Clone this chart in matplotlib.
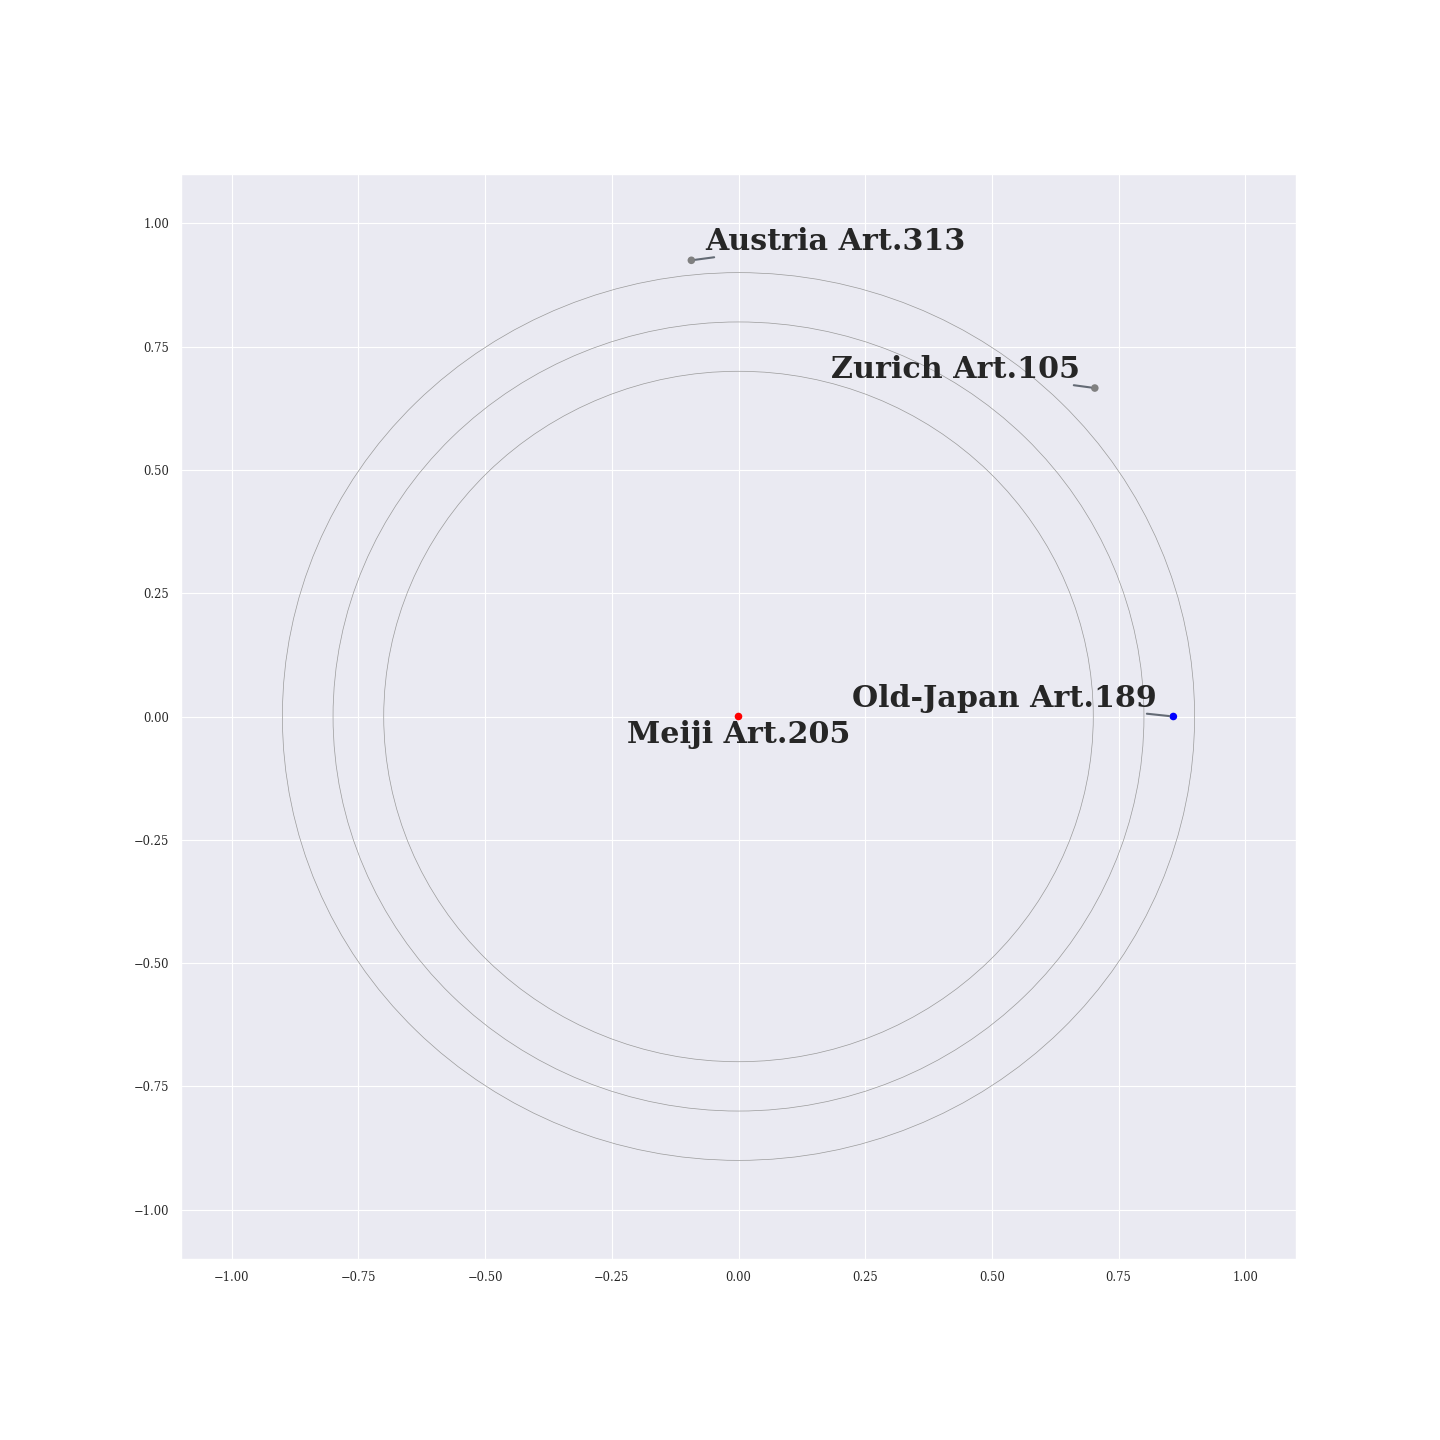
import matplotlib
matplotlib.use("Agg")
import matplotlib.pyplot as plt
import seaborn as sns

sns.set_theme(context="paper", style="darkgrid")
plt.rcParams['font.family'] = ['serif']
plt.rcParams['font.serif'] = ['DejaVu Serif']

labels = ["Meiji Art.205", "Old-Japan Art.189", "Zurich Art.105", "Austria Art.313"]
xs = [0.0, 0.858, 0.703, -0.093]
ys = [0.0, 0.0, 0.666, 0.925]
colors = ["red", "blue", "gray", "gray"]
text_x = [0.0, 0.525, 0.428, 0.191]
text_y = [-0.036, 0.036, 0.704, 0.964]
radii = [0.7, 0.8, 0.9]
# how far (pt) the leader line stays away from the label centre
shrink = [None, 103, 86, 88]

fig = plt.figure(figsize=(14.4, 14.4), dpi=100)
ax = fig.add_axes([181/1440, 1 - 1259/1440, (1296 - 181)/1440, (1259 - 174)/1440])

for r in radii:
    ax.add_patch(plt.Circle((0, 0), r, fill=False, color="#9a9a9a", lw=0.5))

ax.scatter(xs, ys, c=colors, s=30, zorder=3, linewidths=0)

for lab, x, y, tx, ty, sh in zip(labels, xs, ys, text_x, text_y, shrink):
    ap = None
    if sh is not None:
        ap = dict(arrowstyle="-", color="#646b75", lw=1.5, patchA=None,
                  shrinkA=sh, shrinkB=3)
    ax.annotate(lab, xy=(x, y), xytext=(tx, ty), ha="center", va="center",
                fontsize=21.7, fontweight="bold", color="#262626",
                arrowprops=ap)

ax.set_xlim(-1.1, 1.1)
ax.set_ylim(-1.1, 1.1)
ax.tick_params(labelsize=8.3)

plt.savefig("out.png", dpi=100)
